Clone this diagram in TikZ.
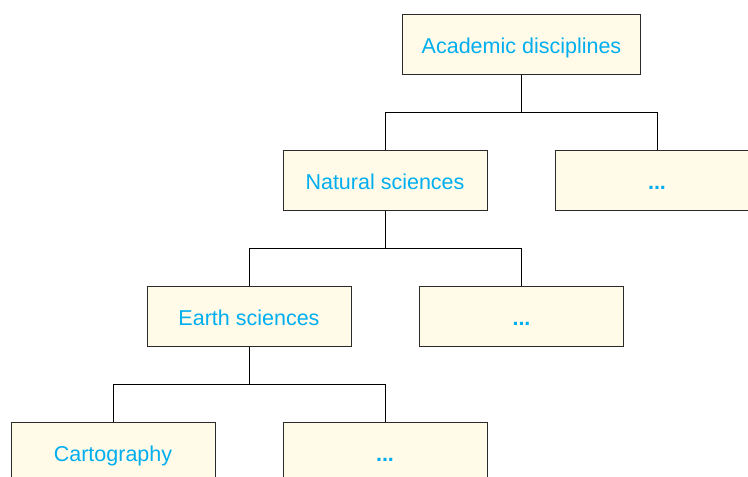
\documentclass[tikz,border=0pt]{standalone}
\usepackage{fontspec}
\setmainfont{Liberation Sans}
\definecolor{boxfill}{HTML}{FFFBE8}
\definecolor{txt}{HTML}{00AEEF}
\definecolor{boxline}{HTML}{2A2A2A}
\begin{document}
\begin{tikzpicture}[x=1pt,y=-1pt,
  cat/.style={draw=boxline,line width=1pt,fill=boxfill,rectangle,inner sep=0pt,
    minimum width=204pt,minimum height=60pt,text=txt,text height=20pt,text depth=2pt,
    font=\fontsize{21.5}{24}\selectfont},
  link/.style={draw=black,line width=0.8pt}]
\useasboundingbox (0,0) rectangle (748,477);
\clip (0,0) rectangle (748,477);
\node[cat,minimum width=238pt] (acad) at (521.5,44) {Academic disciplines};
\node[cat] (nat) at (385,180) {Natural sciences};
\node[cat] (dots1) at (657,180) {\bfseries ...};
\node[cat] (earth) at (249,316) {Earth sciences};
\node[cat] (dots2) at (521.5,316) {\bfseries ...};
\node[cat] (carto) at (113,452) {Cartography};
\node[cat] (dots3) at (385,452) {\bfseries ...};
\draw[link] (acad.south) -- +(0,38) -| (nat.north);
\draw[link] (acad.south) -- +(0,38) -| (dots1.north);
\draw[link] (nat.south) -- +(0,38) -| (earth.north);
\draw[link] (nat.south) -- +(0,38) -| (dots2.north);
\draw[link] (earth.south) -- +(0,38) -| (carto.north);
\draw[link] (earth.south) -- +(0,38) -| (dots3.north);
\end{tikzpicture}
\end{document}
